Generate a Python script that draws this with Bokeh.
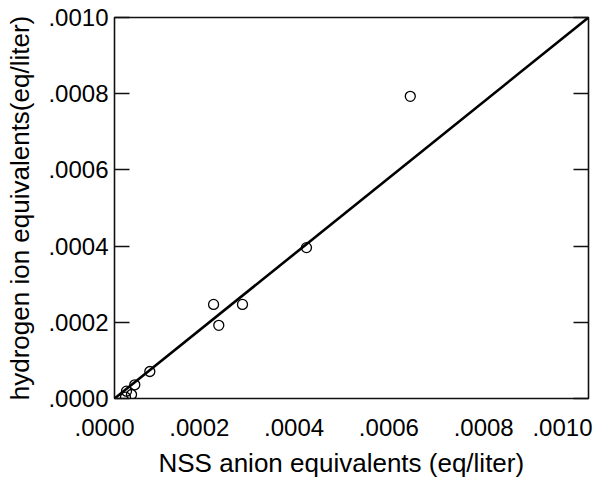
from bokeh.plotting import figure
from bokeh.models import LinearAxis, FixedTicker, ColumnDataSource, Title
from bokeh.embed import file_html
from bokeh.resources import INLINE

# data (eq/liter)
nss_anion = [0.0000232, 0.0000253, 0.0000359, 0.0000428, 0.0000745,
             0.000209, 0.000270, 0.000220, 0.000405, 0.000624]
hydrogen_ion = [0.0000034, 0.0000192, 0.0000105, 0.0000360, 0.0000709,
                0.000247, 0.000247, 0.000192, 0.000396, 0.000793]
one_to_one_x = [0.0, 0.001]
one_to_one_y = [0.0, 0.001]
tick_values = [0.0, 0.0002, 0.0004, 0.0006, 0.0008, 0.0010]
tick_labels = [".0000", ".0002", ".0004", ".0006", ".0008", ".0010"]

FONT = "Liberation Sans"
FS = "24px"
TFS = "26px"

p = figure(width=612, height=485, x_range=(0, 0.001), y_range=(0, 0.001),
           output_backend="svg", toolbar_location=None,
           min_border_left=114, min_border_right=24, min_border_top=17,
           min_border_bottom=87)
p.grid.visible = False
p.background_fill_color = "white"
p.border_fill_color = "white"
p.outline_line_color = "#111111"
p.outline_line_width = 1.6

# bottom axis (labels sit slightly left of their values, as in the original)
xa = p.xaxis[0]
xa.ticker = FixedTicker(ticks=tick_values)
xa.major_label_overrides = {t: lab + "\u00a0\u00a0\u00a0" for t, lab in zip(tick_values, tick_labels)}
xa.axis_line_color = None
xa.major_tick_line_color = None
xa.minor_tick_line_color = None
xa.major_label_text_font = FONT
xa.major_label_text_font_size = FS
xa.major_label_text_color = "black"
xa.major_label_standoff = 9

xtitle = Title(text="NSS anion equivalents (eq/liter)", align="left", offset=44,
               text_font=FONT, text_font_size=TFS, text_font_style="normal",
               text_color="black", standoff=4)
p.add_layout(xtitle, "below")

# left axis
ya = p.yaxis[0]
ya.ticker = FixedTicker(ticks=tick_values)
ya.major_label_overrides = dict(zip(tick_values, tick_labels))
ya.axis_line_color = None
ya.major_tick_in = 15
ya.major_tick_out = 0
ya.major_tick_line_color = "#111111"
ya.major_tick_line_width = 1.4
ya.minor_tick_line_color = None
ya.major_label_text_font = FONT
ya.major_label_text_font_size = FS
ya.major_label_text_color = "black"
ya.major_label_standoff = 6
ya.axis_label = "hydrogen ion equivalents(eq/liter)"
ya.axis_label_text_font = FONT
ya.axis_label_text_font_size = TFS
ya.axis_label_text_font_style = "normal"
ya.axis_label_text_color = "black"
ya.axis_label_standoff = 10

# right axis (ticks only)
ra = LinearAxis(ticker=FixedTicker(ticks=tick_values))
ra.major_label_overrides = {t: "" for t in tick_values}
ra.axis_line_color = None
ra.major_tick_in = 15
ra.major_tick_out = 0
ra.major_tick_line_color = "#111111"
ra.major_tick_line_width = 1.4
ra.minor_tick_line_color = None
ra.major_label_standoff = 0
p.add_layout(ra, "right")

p.line(one_to_one_x, one_to_one_y, line_color="black", line_width=2.6)

src = ColumnDataSource(data=dict(x=nss_anion, y=hydrogen_ion))
p.scatter("x", "y", source=src, size=10, fill_color=None,
          line_color="black", line_width=1.3)

open("out.html", "w").write(file_html(p, INLINE))
